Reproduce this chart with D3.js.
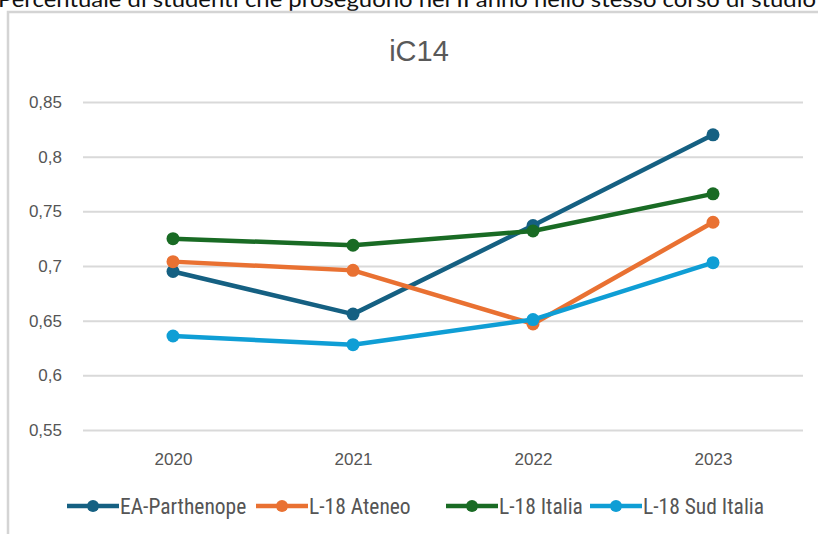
<!DOCTYPE html>
<html>
<head>
<meta charset="utf-8">
<script src="https://cdn.jsdelivr.net/npm/d3@7"></script>
<style>
  body { margin: 0; background: #fff; }
  svg { display: block; }
</style>
</head>
<body>
<div id="container"></div>
<script>
// data
const years = ['2020', '2021', '2022', '2023'];
const seriesNames = ['EA-Parthenope', 'L-18 Ateneo', 'L-18 Italia', 'L-18 Sud Italia'];
const eaParthenope = [0.695, 0.656, 0.737, 0.820];
const l18Ateneo = [0.704, 0.696, 0.647, 0.740];
const l18Italia = [0.725, 0.719, 0.732, 0.766];
const l18SudItalia = [0.636, 0.628, 0.651, 0.703];
const yTicks = [0.55, 0.6, 0.65, 0.7, 0.75, 0.8, 0.85];
const colors = ['#156082', '#E97132', '#196B24', '#0F9ED5'];

const width = 818, height = 534;

const series = seriesNames.map((name, i) => ({
  name: name,
  color: colors[i],
  values: [eaParthenope, l18Ateneo, l18Italia, l18SudItalia][i].map((v, j) => ({year: years[j], value: v}))
}));

const svg = d3.select('#container')
  .append('svg')
  .attr('width', width)
  .attr('height', height);

//heading above the chart (cut off at the top, as in the source)
svg.append('text')
  .attr('x', -2)
  .attr('y', 7)
  .style('font-family', 'Lato, "Open Sans", sans-serif')
  .style('font-size', '21px')
  .attr('textLength', 818)
  .attr('lengthAdjust', 'spacingAndGlyphs')
  .style('fill', '#111')
  .text('Percentuale di studenti che proseguono nel II anno nello stesso corso di studio');

//chart frame
svg.append('rect')
  .attr('x', 8)
  .attr('y', 12)
  .attr('width', 830)
  .attr('height', 540)
  .style('fill', '#fff')
  .style('stroke', '#d4d4d4')
  .style('stroke-width', 2.5);

//title
svg.append('text')
  .attr('x', 419)
  .attr('y', 61)
  .attr('text-anchor', 'middle')
  .style('font-family', '"Liberation Sans", Arial, sans-serif')
  .style('font-size', '29px')
  .style('fill', '#595959')
  .text('iC14');

const xScale = d3.scalePoint()
  .domain(years)
  .range([83, 803])
  .padding(0.5);

const yScale = d3.scaleLinear()
  .domain([0.55, 0.85])
  .range([430, 102]);

const itFormat = d3.formatLocale({decimal: ',', thousands: '.', grouping: [3], currency: ['', '€']}).format('~g');

//gridlines + y labels
const yAxis = svg.append('g')
  .attr('class', 'y_axis')
  .attr('transform', 'translate(83,0)')
  .call(d3.axisLeft(yScale)
    .tickValues(yTicks)
    .tickFormat(itFormat)
    .tickSize(-720)
    .tickPadding(21));

yAxis.select('.domain').remove();
yAxis.selectAll('line')
  .style('stroke', '#d9d9d9')
  .style('stroke-width', 2);
yAxis.selectAll('text')
  .style('font-family', '"Liberation Sans", Arial, sans-serif')
  .style('font-size', '17px')
  .style('fill', '#555');

//x labels
const xAxis = svg.append('g')
  .attr('class', 'x_axis')
  .attr('transform', 'translate(0,430)')
  .call(d3.axisBottom(xScale).tickSize(0).tickPadding(23));

xAxis.select('.domain').remove();
xAxis.selectAll('text')
  .style('font-family', '"Liberation Sans", Arial, sans-serif')
  .style('font-size', '17px')
  .style('fill', '#555');

const line = d3.line()
  .x(d => xScale(d.year))
  .y(d => yScale(d.value));

const lines = svg.append('g').attr('class', 'lines');

series.forEach(s => {
  lines.append('path')
    .datum(s.values)
    .attr('d', line)
    .style('fill', 'none')
    .style('stroke', s.color)
    .style('stroke-width', 4.5)
    .style('stroke-linejoin', 'round');

  lines.selectAll(null)
    .data(s.values)
    .enter()
    .append('circle')
    .attr('cx', d => xScale(d.year))
    .attr('cy', d => yScale(d.value))
    .attr('r', 6.5)
    .style('fill', s.color);
});

//legend
const legendX = [67, 256, 446, 590];
const legend = svg.append('g').attr('class', 'legend');

series.forEach((s, i) => {
  const g = legend.append('g')
    .attr('transform', `translate(${legendX[i]},506)`);
  g.append('line')
    .attr('x1', 0)
    .attr('x2', 52)
    .style('stroke', s.color)
    .style('stroke-width', 4.5);
  g.append('circle')
    .attr('cx', 26)
    .attr('r', 6)
    .style('fill', s.color);
  g.append('text')
    .attr('x', 53)
    .attr('y', 8)
    .style('font-family', '"Liberation Sans Narrow", "Roboto Condensed", "Liberation Sans", sans-serif')
    .style('font-size', '21.5px')
    .style('fill', '#555')
    .text(s.name);
});
</script>
</body>
</html>
